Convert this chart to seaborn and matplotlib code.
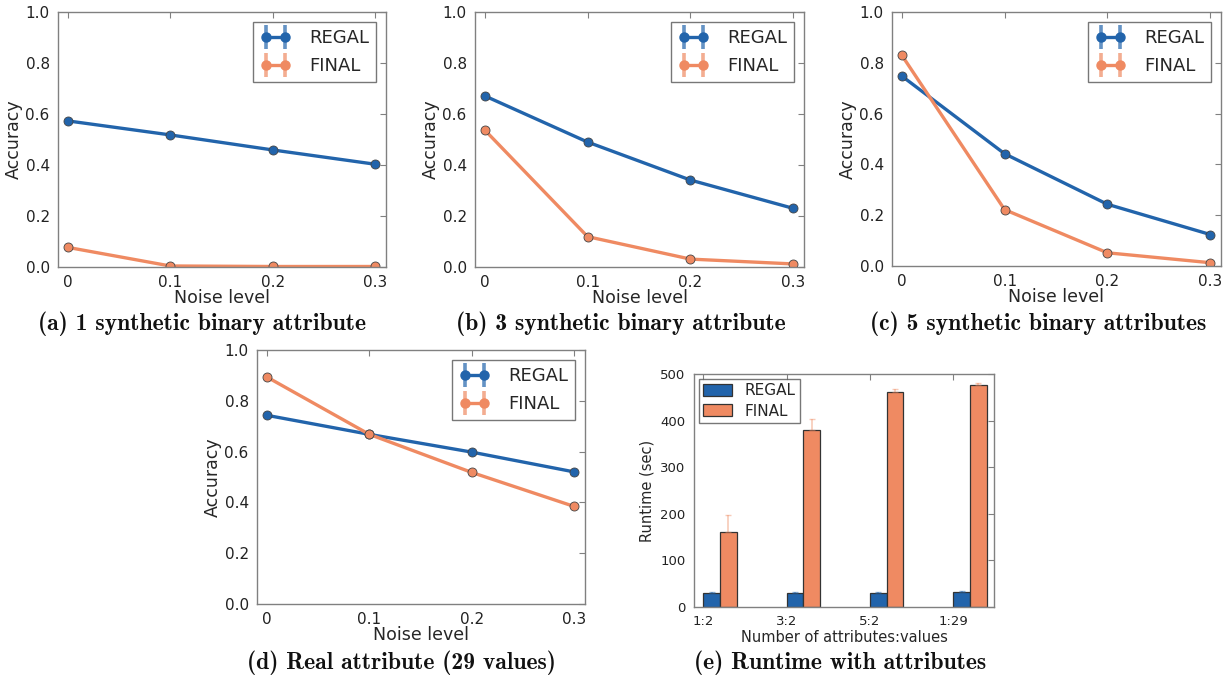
import numpy as np
import pandas as pd
import seaborn as sns
import matplotlib
matplotlib.use("Agg")
import matplotlib.pyplot as plt
from matplotlib.lines import Line2D
from matplotlib.patches import Patch

# ---- data -------------------------------------------------------------
noise_levels = [0.0, 0.1, 0.2, 0.3]
noise_labels = ["0", "0.1", "0.2", "0.3"]
methods = ["REGAL", "FINAL"]

regal_1bin = [0.573, 0.518, 0.459, 0.403]
final_1bin = [0.077, 0.004, 0.002, 0.002]

regal_3bin = [0.671, 0.490, 0.341, 0.230]
final_3bin = [0.537, 0.119, 0.031, 0.012]

regal_5bin = [0.748, 0.442, 0.243, 0.124]
final_5bin = [0.830, 0.222, 0.052, 0.013]

regal_real = [0.743, 0.668, 0.598, 0.520]
final_real = [0.894, 0.668, 0.518, 0.384]

attr_categories = ["1:2", "3:2", "5:2", "1:29"]
regal_runtime = [31, 31, 31, 33]
final_runtime = [160, 380, 462, 476]
regal_runtime_err = [1.5, 1.5, 1.5, 1.5]
final_runtime_err = [37, 24, 5, 4]

captions = [
    "(a) 1 synthetic binary attribute",
    "(b) 3 synthetic binary attribute",
    "(c) 5 synthetic binary attributes",
    "(d) Real attribute (29 values)",
    "(e) Runtime with attributes",
]

# ---- style ------------------------------------------------------------
sns.set_theme(style="white")
plt.rcParams["font.family"] = ["DejaVu Sans"]
BLUE = "#2264ab"
ORANGE = "#ef8a62"
palette = {"REGAL": BLUE, "FINAL": ORANGE}
FRAME = "#808080"

W, H = 1228, 676
fig = plt.figure(figsize=(W / 100, H / 100), dpi=100)


def px_axes(left, right, top, bottom):
    return fig.add_axes([left / W, 1 - bottom / H, (right - left) / W, (bottom - top) / H])


def style_frame(ax):
    for s in ax.spines.values():
        s.set_color(FRAME)
        s.set_linewidth(1.0)
    ax.tick_params(axis="both", which="major", direction="out", length=4,
                   width=0.8, color=FRAME, pad=2, labelcolor="#222222")
    # inward ticks on the opposite sides
    sec_y = ax.secondary_yaxis("right")
    sec_y.set_yticks(ax.get_yticks())
    sec_y.tick_params(direction="in", length=4, width=0.8, color=FRAME, labelright=False)
    sec_y.spines["right"].set_visible(False)
    sec_x = ax.secondary_xaxis("top")
    sec_x.set_xticks(ax.get_xticks())
    sec_x.tick_params(direction="in", length=4, width=0.8, color=FRAME, labeltop=False)
    sec_x.spines["top"].set_visible(False)


def line_panel(ax, regal, final):
    df = pd.DataFrame({
        "Noise level": noise_levels * 2,
        "Accuracy": list(regal) + list(final),
        "method": ["REGAL"] * 4 + ["FINAL"] * 4,
    })
    sns.lineplot(data=df, x="Noise level", y="Accuracy", hue="method",
                 hue_order=methods, palette=palette, marker="o",
                 markersize=6.5, markeredgecolor="#444444", markeredgewidth=0.6,
                 linewidth=2.4, legend=False, ax=ax)
    ax.set_xlim(-0.0095, 0.3105)
    ax.set_ylim(0, 1.0)
    ax.set_xticks(noise_levels)
    ax.set_xticklabels(noise_labels)
    ax.set_yticks(np.arange(0, 1.01, 0.2))
    ax.set_yticklabels([f"{v:.1f}" for v in np.arange(0, 1.01, 0.2)])
    ax.tick_params(labelsize=11)
    ax.set_xlabel("Noise level", fontsize=12.5, labelpad=-1)
    ax.set_ylabel("Accuracy", fontsize=12.5, labelpad=2)
    style_frame(ax)
    handles = []
    for m in methods:
        c = palette[m]
        bar = Line2D([], [], color=c, marker="|", linestyle="", markersize=17,
                     markeredgewidth=2.6, alpha=0.7)
        ln = Line2D([], [], color=c, marker="o", linewidth=2.4, markersize=6.5,
                    markeredgecolor=c)
        handles.append((bar, ln))
    leg = ax.legend(handles, methods, loc="upper right", numpoints=2,
                    fontsize=13, handlelength=1.7, handletextpad=1.0,
                    borderpad=0.4, labelspacing=0.55, fancybox=False,
                    frameon=True, borderaxespad=0.55)
    leg.get_frame().set_edgecolor("#555555")
    leg.get_frame().set_linewidth(1.0)


axes_px = [
    (58, 386, 12, 267),
    (475, 804, 12, 267),
    (892, 1221, 12, 266),
    (257, 585, 350, 604),
]
series = [(regal_1bin, final_1bin), (regal_3bin, final_3bin),
          (regal_5bin, final_5bin), (regal_real, final_real)]
for (l, r, t, b), (rg, fn) in zip(axes_px, series):
    ax = px_axes(l, r, t, b)
    line_panel(ax, rg, fn)

# ---- runtime bar panel ------------------------------------------------
axb = px_axes(694, 994, 374, 607)
df_rt = pd.DataFrame({
    "attrs": attr_categories * 2,
    "runtime": regal_runtime + final_runtime,
    "method": ["REGAL"] * 4 + ["FINAL"] * 4,
})
sns.barplot(data=df_rt, x="attrs", y="runtime", hue="method", hue_order=methods,
            palette=palette, order=attr_categories, width=0.4, dodge=True,
            errorbar=None, edgecolor="#333333", linewidth=0.9, saturation=1,
            legend=False, ax=axb)
errs = {"REGAL": regal_runtime_err, "FINAL": final_runtime_err}
for cont, m in zip(axb.containers, methods):
    xs = [p.get_x() + p.get_width() / 2 for p in cont.patches]
    ys = [p.get_height() for p in cont.patches]
    axb.errorbar(xs, ys, yerr=[np.zeros(4), errs[m]], fmt="none",
                 ecolor=palette[m], alpha=0.45, elinewidth=1.2, capsize=2.5,
                 capthick=1.0)
axb.set_xticks([i - 0.2 for i in range(4)])
axb.set_xticklabels(attr_categories)
axb.set_xlim(-0.31, 3.29)
axb.set_ylim(0, 500)
axb.set_yticks(range(0, 501, 100))
axb.tick_params(labelsize=9.5)
axb.set_xlabel("Number of attributes:values", fontsize=10.5, labelpad=1)
axb.set_ylabel("Runtime (sec)", fontsize=10.5, labelpad=4)
style_frame(axb)
bar_handles = [Patch(facecolor=palette[m], edgecolor="#333333", linewidth=0.9)
               for m in methods]
legb = axb.legend(bar_handles, methods, loc="upper left", fontsize=11,
                  handlelength=1.9, handleheight=0.8, handletextpad=0.8,
                  borderpad=0.3, labelspacing=0.35, fancybox=False,
                  borderaxespad=0.3)
legb.get_frame().set_edgecolor("#555555")
legb.get_frame().set_linewidth(1.0)

# ---- captions ---------------------------------------------------------
caption_pos = [(202, 324), (621, 324), (1038, 324), (401, 663), (840, 663)]
for (cx, cy), txt in zip(caption_pos, captions):
    fig.text(cx / W, 1 - cy / H, txt, ha="center", va="center",
             fontsize=17, fontfamily="cmb10", color="#111111")

fig.savefig("out.png", dpi=100)
